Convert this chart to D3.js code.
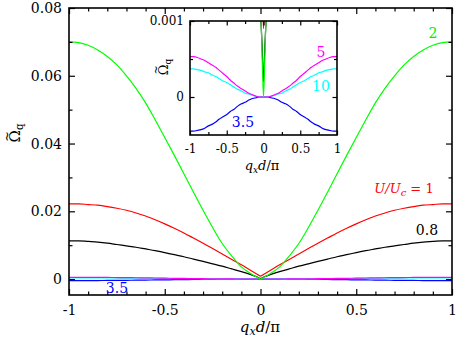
<!DOCTYPE html>
<html>
<head>
<meta charset="utf-8">
<script src="https://cdn.jsdelivr.net/npm/d3@7"></script>
<style>
	body { margin: 0; background: #fff; }
	svg { display: block; }
</style>
</head>
<body>
<div id="chart"></div>
<script>
	'use strict';

	// q_x d / pi sample points
	const qs = [-1, -0.95, -0.9, -0.85, -0.8, -0.75, -0.7, -0.65, -0.6, -0.55, -0.5, -0.45, -0.4, -0.35, -0.3, -0.25, -0.2, -0.15, -0.1, -0.05, -0.02, 0,
		0.02, 0.05, 0.1, 0.15, 0.2, 0.25, 0.3, 0.35, 0.4, 0.45, 0.5, 0.55, 0.6, 0.65, 0.7, 0.75, 0.8, 0.85, 0.9, 0.95, 1];

	// U/Uc = 2
	const omega2 = [0.0700, 0.0698, 0.0690, 0.0676, 0.0657, 0.0632, 0.0600, 0.0563, 0.0520, 0.0470, 0.0418, 0.0365, 0.0311, 0.0256, 0.0203, 0.0152, 0.0105, 0.0068, 0.0036, 0.0016, 0.0006, 0.0000,
		0.0006, 0.0016, 0.0036, 0.0068, 0.0105, 0.0152, 0.0203, 0.0256, 0.0311, 0.0365, 0.0418, 0.0470, 0.0520, 0.0563, 0.0600, 0.0632, 0.0657, 0.0676, 0.0690, 0.0698, 0.0700];
	// U/Uc = 1
	const omega1 = [0.0222, 0.0222, 0.0220, 0.0218, 0.0214, 0.0209, 0.0203, 0.0195, 0.0186, 0.0175, 0.0163, 0.0150, 0.0136, 0.0121, 0.0106, 0.0090, 0.0074, 0.0058, 0.0042, 0.0025, 0.0015, 0.0009,
		0.0015, 0.0025, 0.0042, 0.0058, 0.0074, 0.0090, 0.0106, 0.0121, 0.0136, 0.0150, 0.0163, 0.0175, 0.0186, 0.0195, 0.0203, 0.0209, 0.0214, 0.0218, 0.0220, 0.0222, 0.0222];
	// U/Uc = 0.8
	const omega08 = [0.0113, 0.0113, 0.0111, 0.0109, 0.0106, 0.0102, 0.0098, 0.0094, 0.0089, 0.0084, 0.0078, 0.0072, 0.0066, 0.0059, 0.0052, 0.0045, 0.0038, 0.0030, 0.0022, 0.0013, 0.0007, 0.0002,
		0.0007, 0.0013, 0.0022, 0.0030, 0.0038, 0.0045, 0.0052, 0.0059, 0.0066, 0.0072, 0.0078, 0.0084, 0.0089, 0.0094, 0.0098, 0.0102, 0.0106, 0.0109, 0.0111, 0.0113, 0.0113];
	// U/Uc = 5
	const omega5 = [0.00053, 0.00053, 0.00052, 0.00050, 0.00048, 0.00045, 0.00042, 0.00039, 0.00035, 0.00031, 0.00027, 0.00022, 0.00018, 0.00014, 0.00011, 0.00008, 0.00005, 0.00003, 0.00001, 0, 0, 0,
		0, 0, 0.00001, 0.00003, 0.00005, 0.00008, 0.00011, 0.00014, 0.00018, 0.00022, 0.00027, 0.00031, 0.00035, 0.00039, 0.00042, 0.00045, 0.00048, 0.00050, 0.00052, 0.00053, 0.00053];
	// U/Uc = 10
	const omega10 = [0.00037, 0.00037, 0.00036, 0.00035, 0.00033, 0.00032, 0.00029, 0.00027, 0.00024, 0.00021, 0.00019, 0.00016, 0.00013, 0.00010, 0.00008, 0.00005, 0.00004, 0.00002, 0.00001, 0, 0, 0,
		0, 0, 0.00001, 0.00002, 0.00004, 0.00005, 0.00008, 0.00010, 0.00013, 0.00016, 0.00019, 0.00021, 0.00024, 0.00027, 0.00029, 0.00032, 0.00033, 0.00035, 0.00036, 0.00037, 0.00037];
	// U/Uc = 3.5
	const omega35 = [-0.00045, -0.00045, -0.00044, -0.00043, -0.00041, -0.00038, -0.00036, -0.00033, -0.00029, -0.00026, -0.00023, -0.00019, -0.00016, -0.00012, -0.00009, -0.00007, -0.00004, -0.00002, -0.00001, 0, 0, 0,
		0, 0, -0.00001, -0.00002, -0.00004, -0.00007, -0.00009, -0.00012, -0.00016, -0.00019, -0.00023, -0.00026, -0.00029, -0.00033, -0.00036, -0.00038, -0.00041, -0.00043, -0.00044, -0.00045, -0.00045];

	// tick values and labels
	const xMajor = [-1, -0.5, 0, 0.5, 1];
	const xMajorLabels = ["-1", "-0.5", "0", "0.5", "1"];
	const xMinor = [-0.9, -0.8, -0.7, -0.6, -0.4, -0.3, -0.2, -0.1, 0.1, 0.2, 0.3, 0.4, 0.6, 0.7, 0.8, 0.9];
	const yMajor = [0, 0.02, 0.04, 0.06, 0.08];
	const yMajorLabels = ["0", "0.02", "0.04", "0.06", "0.08"];
	const yMinor = [0.01, 0.03, 0.05, 0.07];
	const insetXMinor = [-0.75, -0.25, 0.25, 0.75];
	const insetYMajor = [0, 0.001];
	const insetYMajorLabels = ["0", "0.001"];
	const insetYMinor = [0.0005];

	const series = [
		{ name: "3.5", values: omega35, color: "#0000ff" },
		{ name: "10", values: omega10, color: "#00ffff" },
		{ name: "5", values: omega5, color: "#ff00ff" },
		{ name: "0.8", values: omega08, color: "#000000" },
		{ name: "1", values: omega1, color: "#ff0000" },
		{ name: "2", values: omega2, color: "#00ff00" }
	];

	const FONT = "DejaVu Serif";
	const width = 457, height = 339;
	const svg = d3.select("#chart").append("svg")
		.attr("width", width).attr("height", height)
		.style("font-family", FONT);

	// draws a framed panel with inward ticks on all four sides
	function panel(g, x, y, opt) {
		const [x0, x1] = x.range();
		const [y1, y0] = y.range();
		const tick = (axis, vals, size, labels, pad) => axis
			.tickValues(vals).tickSize(-size).tickPadding(pad || 0)
			.tickFormat(labels ? (d, i) => labels[i] : "");

		const parts = [
			[() => d3.axisBottom(x), `translate(0,${y1})`, opt.xMajor, opt.xMajorLabels, opt.xMinor, opt.xPad],
			[() => d3.axisTop(x), `translate(0,${y0})`, opt.xMajor, null, opt.xMinor, 0],
			[() => d3.axisLeft(y), `translate(${x0},0)`, opt.yMajor, opt.yMajorLabels, opt.yMinor, opt.yPad],
			[() => d3.axisRight(y), `translate(${x1},0)`, opt.yMajor, null, opt.yMinor, 0]
		];
		parts.forEach(([mk, tr, major, labels, minor, pad]) => {
			const ga = g.append("g").attr("transform", tr)
				.call(tick(mk(), major, opt.major, labels, pad))
				.attr("font-family", null)
				.attr("font-size", opt.size);
			ga.selectAll(".domain").remove();
			ga.selectAll("text").attr("fill", "#000").style("font-family", FONT);
			ga.selectAll("line").attr("stroke-width", 1.2);

			const gm = g.append("g").attr("transform", tr)
				.call(tick(mk(), minor, opt.minor, null, 0));
			gm.selectAll(".domain").remove();
			gm.selectAll("text").remove();
			gm.selectAll("line").attr("stroke-width", 1.2);
		});
		g.append("rect")
			.attr("x", x0).attr("y", y0)
			.attr("width", x1 - x0).attr("height", y1 - y0)
			.attr("fill", "none").attr("stroke", "#000").attr("stroke-width", 1.6);
	}

	// rotated "Omega tilde, subscript q" title; tilde drawn as its own glyph
	function omegaTitle(g, x, y, size) {
		const t = g.append("g").attr("transform", `translate(${x},${y}) rotate(-90)`);
		const txt = t.append("text").attr("text-anchor", "middle").attr("font-size", size);
		txt.append("tspan").text("Ω");
		txt.append("tspan").attr("font-size", size * 0.68).attr("dy", size * 0.2).text("q");
		// Omega is ~0.78em wide, subscript q ~0.44em: centre of Omega sits left of middle
		t.append("text").attr("text-anchor", "middle")
			.attr("x", -size * 0.22).attr("y", -size * 0.62)
			.attr("font-size", size * 0.85).text("~");
	}

	// MAIN PLOT
	const xScale = d3.scaleLinear().domain([-1, 1]).range([69, 452]);
	const yScale = d3.scaleLinear().domain([-0.0047, 0.08]).range([295, 8]);

	const main = svg.append("g");
	const line = d3.line()
		.x((d, i) => xScale(qs[i]))
		.y(d => yScale(d))
		.curve(d3.curveMonotoneX);

	main.selectAll("path.curve").data(series).enter()
		.append("path").attr("class", "curve")
		.attr("d", d => line(d.values))
		.attr("fill", "none")
		.attr("stroke", d => d.color)
		.attr("stroke-width", 1.2);

	panel(main, xScale, yScale, {
		xMajor: xMajor, xMajorLabels: xMajorLabels, xMinor: xMinor, xPad: 10,
		yMajor: yMajor, yMajorLabels: yMajorLabels, yMinor: yMinor, yPad: 7,
		major: 6, minor: 3.5, size: 14
	});

	// main axis titles
	const xTitle = main.append("text")
		.attr("x", 260).attr("y", 332)
		.attr("text-anchor", "middle").attr("font-size", 15);
	xTitle.append("tspan").attr("font-style", "italic").text("q");
	xTitle.append("tspan").attr("font-style", "italic").attr("font-size", 11).attr("dy", 3).text("x");
	xTitle.append("tspan").attr("font-style", "italic").attr("dy", -3).text("d");
	xTitle.append("tspan").text("/π");

	omegaTitle(main, 20, 133, 15);

	// curve labels in main plot
	main.append("text").attr("x", 433).attr("y", 38).attr("text-anchor", "middle")
		.attr("font-size", 14).attr("fill", "#00ee00").text("2");
	const uLabel = main.append("text").attr("x", 404).attr("y", 193).attr("text-anchor", "middle")
		.attr("font-size", 13).attr("fill", "#ff0000");
	uLabel.append("tspan").attr("font-style", "italic").text("U/U");
	uLabel.append("tspan").attr("font-style", "italic").attr("font-size", 10).attr("dy", 3).text("c");
	uLabel.append("tspan").attr("dy", -3).text(" = 1");
	main.append("text").attr("x", 427).attr("y", 235).attr("text-anchor", "middle")
		.attr("font-size", 14).attr("fill", "#000").text("0.8");
	main.append("text").attr("x", 117).attr("y", 293).attr("text-anchor", "middle")
		.attr("font-size", 14).attr("fill", "#0000ff").text("3.5");

	// INSET
	const ix = d3.scaleLinear().domain([-1, 1]).range([190, 337]);
	const iy = d3.scaleLinear().domain([-0.0005, 0.001]).range([135, 21]);
	const inset = svg.append("g");

	inset.append("rect")
		.attr("x", 190).attr("y", 21).attr("width", 147).attr("height", 114)
		.attr("fill", "#fff");
	inset.append("clipPath").attr("id", "insetClip")
		.append("rect").attr("x", 190).attr("y", 21).attr("width", 147).attr("height", 114);

	const iline = d3.line()
		.x((d, i) => ix(qs[i]))
		.y(d => iy(d))
		.curve(d3.curveMonotoneX);

	inset.append("g").attr("clip-path", "url(#insetClip)")
		.selectAll("path").data(series).enter()
		.append("path")
		.attr("d", d => iline(d.values))
		.attr("fill", "none")
		.attr("stroke", d => d.color)
		.attr("stroke-width", 1.2);

	panel(inset, ix, iy, {
		xMajor: xMajor, xMajorLabels: xMajorLabels, xMinor: insetXMinor, xPad: 9,
		yMajor: insetYMajor, yMajorLabels: insetYMajorLabels, yMinor: insetYMinor, yPad: 6,
		major: 4.5, minor: 3, size: 12
	});

	const ixTitle = inset.append("text")
		.attr("x", 262).attr("y", 170)
		.attr("text-anchor", "middle").attr("font-size", 13);
	ixTitle.append("tspan").attr("font-style", "italic").text("q");
	ixTitle.append("tspan").attr("font-style", "italic").attr("font-size", 9).attr("dy", 3).text("x");
	ixTitle.append("tspan").attr("font-style", "italic").attr("dy", -3).text("d");
	ixTitle.append("tspan").text("/π");

	omegaTitle(inset, 168, 67, 13);

	inset.append("text").attr("x", 321).attr("y", 57).attr("text-anchor", "middle")
		.attr("font-size", 14).attr("fill", "#ff00ff").text("5");
	inset.append("text").attr("x", 321).attr("y", 91).attr("text-anchor", "middle")
		.attr("font-size", 14).attr("fill", "#00ffff").text("10");
	inset.append("text").attr("x", 243).attr("y", 127).attr("text-anchor", "middle")
		.attr("font-size", 14).attr("fill", "#0000ff").text("3.5");
</script>
</body>
</html>
